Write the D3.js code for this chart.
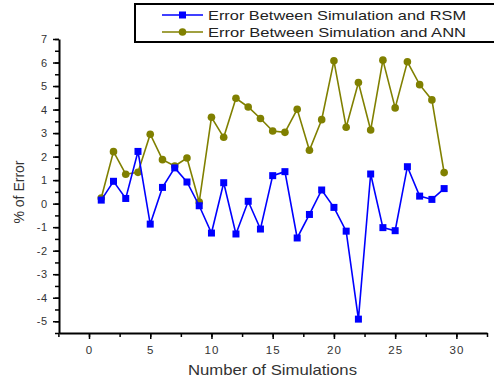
<!DOCTYPE html>
<html>
<head>
<meta charset="utf-8">
<script src="https://cdn.jsdelivr.net/npm/d3@7"></script>
<style>
  body { margin: 0; background: #fff; }
  text { font-family: Arial, "Liberation Sans", sans-serif; }
</style>
</head>
<body>
<div id="chart"></div>
<script>
// data
var runs = d3.range(1, 30);
var rsmError = [0.15, 0.95, 0.22, 2.22, -0.87, 0.69, 1.52, 0.92, -0.09, -1.25,
                0.89, -1.29, 0.1, -1.08, 1.19, 1.36, -1.46, -0.46, 0.58, -0.16,
                -1.17, -4.91, 1.26, -1.02, -1.15, 1.57, 0.32, 0.18, 0.64];
var annError = [0.24, 2.21, 1.25, 1.33, 2.95, 1.87, 1.6, 1.94, 0.07, 3.67,
                2.82, 4.48, 4.11, 3.62, 3.09, 3.03, 4.01, 2.27, 3.57, 6.07,
                3.25, 5.15, 3.13, 6.1, 4.07, 6.03, 5.06, 4.41, 1.32];
var xTicks = [0, 5, 10, 15, 20, 25, 30];
var yTicks = [-5, -4, -3, -2, -1, 0, 1, 2, 3, 4, 5, 6, 7];
var seriesNames = ["Error Between Simulation and RSM", "Error Between Simulation and ANN"];

// set the dimensions and margins of the graph
var margin = {top: 39, right: 7, bottom: 47, left: 59},
    width = 494 - margin.left - margin.right,
    height = 380 - margin.top - margin.bottom;

var svg = d3.select("#chart")
  .append("svg")
    .attr("width", 494)
    .attr("height", 380)
  .append("g")
    .attr("transform", "translate(" + margin.left + "," + margin.top + ")");

var x = d3.scaleLinear().domain([-2.45, 32.5]).range([0, width]);
var y = d3.scaleLinear().domain([-5.5, 7]).range([height, 0]);

// plain hyphen minus like the original
var fmt = function(d) { return String(d); };

// minor ticks
svg.append("g")
  .attr("transform", "translate(0," + height + ")")
  .call(d3.axisBottom(x).tickValues(d3.range(-2.5, 32.6, 2.5)).tickSize(4).tickFormat(""))
  .call(function(g) { g.select(".domain").remove(); })
  .selectAll("line").attr("stroke-width", 1.5);
svg.append("g")
  .call(d3.axisLeft(y).tickValues(d3.range(-5.5, 7.1, 0.5)).tickSize(4).tickFormat(""))
  .call(function(g) { g.select(".domain").remove(); })
  .selectAll("line").attr("stroke-width", 1.5);

// Add X axis
var xAxis = svg.append("g")
  .attr("transform", "translate(0," + height + ")")
  .call(d3.axisBottom(x).tickValues(xTicks).tickFormat(fmt).tickSize(6).tickSizeOuter(0));
xAxis.select(".domain").attr("stroke-width", 2);
xAxis.selectAll("line").attr("stroke-width", 1.5);
xAxis.selectAll("text").attr("font-size", 11.5).attr("letter-spacing", 1).attr("fill", "#333").attr("dy", "1.0em");

// Add Y axis
var yAxis = svg.append("g")
  .call(d3.axisLeft(y).tickValues(yTicks).tickFormat(fmt).tickSize(6).tickSizeOuter(0));
yAxis.select(".domain").attr("stroke-width", 2);
yAxis.selectAll("line").attr("stroke-width", 1.5);
yAxis.selectAll("text").attr("font-size", 11).attr("letter-spacing", 0.6).attr("fill", "#333").attr("dx", "-0.2em");

// axis labels
svg.append("text")
  .attr("text-anchor", "middle")
  .attr("x", 213.5)
  .attr("y", height + 42)
  .attr("font-size", 14.5)
  .attr("fill", "#333")
  .attr("textLength", 169)
  .attr("lengthAdjust", "spacingAndGlyphs")
  .text("Number of Simulations");

svg.append("text")
  .attr("text-anchor", "middle")
  .attr("transform", "rotate(-90)")
  .attr("x", -153)
  .attr("y", -35)
  .attr("font-size", 14)
  .attr("fill", "#333")
  .text("% of Error");

var line = d3.line()
  .x(function(d) { return x(d[0]); })
  .y(function(d) { return y(d[1]); });

var rsmData = runs.map(function(r, i) { return [r, rsmError[i]]; });
var annData = runs.map(function(r, i) { return [r, annError[i]]; });

// ANN line
svg.append("path")
  .datum(annData)
  .attr("fill", "none")
  .attr("stroke", "#808000")
  .attr("stroke-width", 1.6)
  .attr("d", line);
svg.selectAll(".ann")
  .data(annData)
  .enter().append("circle")
  .attr("cx", function(d) { return x(d[0]); })
  .attr("cy", function(d) { return y(d[1]); })
  .attr("r", 3.8)
  .attr("fill", "#808000");

// RSM line
svg.append("path")
  .datum(rsmData)
  .attr("fill", "none")
  .attr("stroke", "#0000ff")
  .attr("stroke-width", 1.6)
  .attr("d", line);
svg.selectAll(".rsm")
  .data(rsmData)
  .enter().append("rect")
  .attr("x", function(d) { return x(d[0]) - 3.5; })
  .attr("y", function(d) { return y(d[1]) - 3.5; })
  .attr("width", 7)
  .attr("height", 7)
  .attr("fill", "#0000ff");

// legend
var legend = d3.select("svg").append("g");
legend.append("rect")
  .attr("x", 135)
  .attr("y", 4)
  .attr("width", 370)
  .attr("height", 38)
  .attr("fill", "#fff")
  .attr("stroke", "#000")
  .attr("stroke-width", 2);
var colors = ["#0000ff", "#808000"];
seriesNames.forEach(function(name, i) {
  var ly = 15 + i * 17;
  legend.append("line")
    .attr("x1", 162).attr("x2", 203)
    .attr("y1", ly).attr("y2", ly)
    .attr("stroke", colors[i])
    .attr("stroke-width", 1.6);
  if (i === 0) {
    legend.append("rect")
      .attr("x", 179).attr("y", ly - 3.5)
      .attr("width", 7).attr("height", 7)
      .attr("fill", colors[i]);
  } else {
    legend.append("circle")
      .attr("cx", 182.5).attr("cy", ly)
      .attr("r", 3.8)
      .attr("fill", colors[i]);
  }
  legend.append("text")
    .attr("x", 208)
    .attr("y", ly + 5)
    .attr("font-size", 13.5)
    .attr("fill", "#222")
    .attr("textLength", 258)
    .attr("lengthAdjust", "spacingAndGlyphs")
    .text(name);
});
</script>
</body>
</html>
